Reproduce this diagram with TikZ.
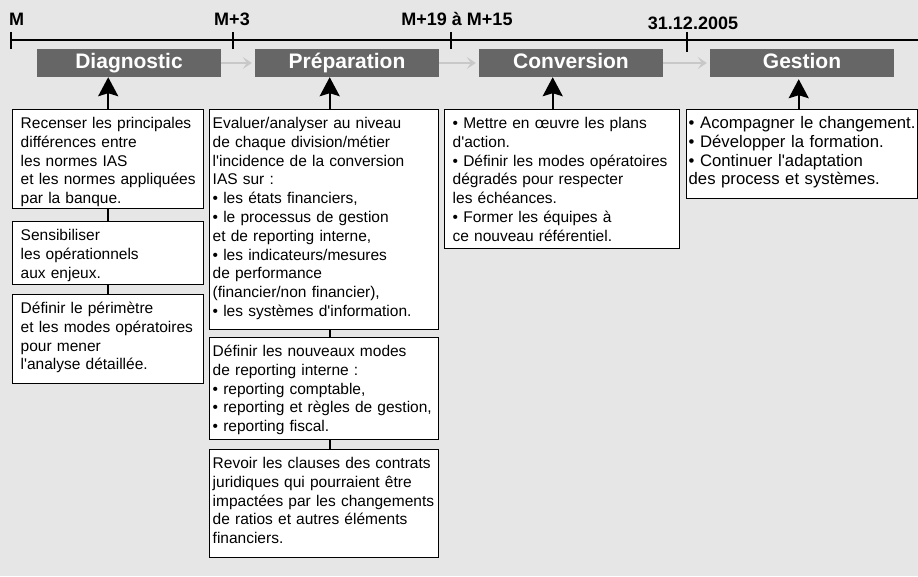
\documentclass[tikz,border=0pt]{standalone}
\usepackage{fontspec}
\setmainfont{Liberation Sans}
\usetikzlibrary{arrows.meta}

\definecolor{bggrey}{HTML}{E6E6E6}
\definecolor{phasegrey}{HTML}{666666}
\definecolor{flowgrey}{HTML}{C8C8C8}

\newcommand{\q}{\textquotesingle}
\newcommand{\bodyfont}{\fontsize{15.5}{18.8}\selectfont}

\tikzset{
	timeline/.style={line width=1.3pt},
	tickmark/.style={line width=2pt},
	datelbl/.style={anchor=base, inner sep=0pt, font=\fontsize{18}{20}\selectfont\bfseries},
	phase/.style={fill=phasegrey, text=white, minimum width=184, minimum height=28, inner sep=0pt, text height=16, text depth=6, font=\fontsize{21}{24}\selectfont\bfseries},
	flow/.style={flowgrey, line width=1.6pt, shorten >=3pt, -{Stealth[length=9pt,width=12pt,inset=4pt]}},
	textbox/.style={anchor=north west, draw, fill=white, line width=1.4pt, align=left, inner ysep=0pt, text height=18.8, font=\bodyfont},
	uparrow/.style={line width=2.2pt, -{Stealth[length=19pt,width=20pt,inset=3pt]}},
	link/.style={line width=2.2pt}
}

\begin{document}
\begin{tikzpicture}[x=1pt,y=-1pt]
	\fill[bggrey] (0,0) rectangle (918,576);
	\useasboundingbox (0,0) rectangle (918,576);

	\draw[timeline] (11,40) -- (918,40);
	\foreach \tx/\ty in {11/49,233/49,451/49,687/52}
		\draw[tickmark] (\tx,32) -- (\tx,\ty);
	\node[datelbl] (m0) at (16.5,25) {M};
	\node[datelbl] (m3) at (232,25) {M+3};
	\node[datelbl] (m19) at (457,25) {M+19 à M+15};
	\node[datelbl] (dfin) at (693,29) {31.12.2005};

	\node[phase] (diag) at (129,63) {Diagnostic};
	\node[phase] (prep) at (347,63) {Préparation};
	\node[phase] (conv) at (571,63) {Conversion};
	\node[phase] (gest) at (802,63) {Gestion};
	\draw[flow] (diag) -- (prep);
	\draw[flow] (prep) -- (conv);
	\draw[flow] (conv) -- (gest);

	\node[textbox, inner xsep=8, text width=175, text depth=80.2] (diagA) at (12,109) {Recenser les principales\\différences entre\\les normes IAS\\et les normes appliquées\\par la banque.};
	\node[textbox, inner xsep=8, text width=175, text depth=44.2] (diagB) at (12,221) {Sensibiliser\\les opérationnels\\aux enjeux.};
	\node[textbox, inner xsep=8, text width=175, text depth=70.2] (diagC) at (12,294) {Définir le périmètre\\et les modes opératoires\\pour mener\\l\q analyse détaillée.};

	\node[textbox, inner xsep=3, text width=223, text depth=201.2] (prepA) at (209,109) {Evaluer/analyser au niveau\\de chaque division/métier\\l\q incidence de la conversion\\IAS sur :\\• les états financiers,\\• le processus de gestion\\et de reporting interne,\\• les indicateurs/mesures\\de performance\\(financier/non financier),\\• les systèmes d\q information.};
	\node[textbox, inner xsep=3, text width=223, text depth=83.2] (prepB) at (209,337) {Définir les nouveaux modes\\de reporting interne :\\• reporting comptable,\\• reporting et règles de gestion,\\• reporting fiscal.};
	\node[textbox, inner xsep=3, text width=223, text depth=89.2] (prepC) at (209,449) {Revoir les clauses des contrats\\juridiques qui pourraient être\\impactées par les changements\\de ratios et autres éléments\\financiers.};

	\node[textbox, inner xsep=8, text width=219, text depth=120.2] (convA) at (444,109) {• Mettre en œuvre les plans\\d\q action.\\• Définir les modes opératoires\\dégradés pour respecter\\les échéances.\\• Former les équipes à\\ce nouveau référentiel.};

	\node[textbox, inner xsep=2, text width=227, text depth=70.2, font=\fontsize{16.7}{18.8}\selectfont] (gestA) at (686,109) {• Acompagner le changement.\\• Développer la formation.\\• Continuer l\q adaptation\\des process et systèmes.};

	\draw[uparrow] (diagA.north) -- (diagA.north |- diag.south);
	\draw[uparrow] ([xshift=5.5]prepA.north) -- ([xshift=5.5]prepA.north |- prep.south);
	\draw[uparrow] ([xshift=-9.5]convA.north) -- ([xshift=-9.5]convA.north |- conv.south);
	\draw[uparrow, shorten >=2pt] ([xshift=-3.5]gestA.north) -- ([xshift=-3.5]gestA.north |- gest.south);

	\draw[link] (diagA.south) -- (diagB.north);
	\draw[link] (diagB.south) -- (diagC.north);
	\draw[link] ([xshift=5.5]prepA.south) -- ([xshift=5.5]prepB.north);
	\draw[link] ([xshift=5.5]prepB.south) -- ([xshift=5.5]prepC.north);
\end{tikzpicture}
\end{document}
